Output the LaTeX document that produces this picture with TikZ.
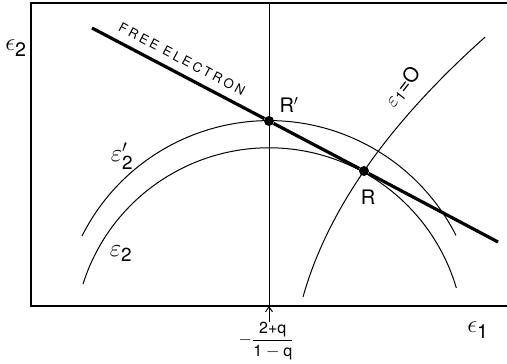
\documentclass[tikz,border=0pt]{standalone}
\usepackage{fontspec}
\usepackage{amsmath}
\setmainfont{TeX Gyre Heros}
\newfontfamily\spaced[LetterSpace=22]{TeX Gyre Heros}
\usetikzlibrary{arrows.meta}
\begin{document}
\begin{tikzpicture}[x=1pt,y=-1pt,
  thinline/.style={line width=1pt},
  frameline/.style={line width=1.6pt},
  freeline/.style={line width=3.2pt},
  dotnode/.style={circle,fill=black,inner sep=0pt,minimum size=10pt},
  lbl/.style={inner sep=1pt,font=\fontsize{20}{22}\selectfont},
  eps/.style={inner sep=1pt,font=\fontsize{27}{29}\selectfont}]
\useasboundingbox (0,0) rectangle (507,364);
% frame
\coordinate (tl) at (31,3);
\coordinate (tr) at (507,3);
\coordinate (bl) at (31,306);
\coordinate (br) at (507,306);
\draw[frameline] (tr) -- (tl) -- (bl) -- (br);
% vertical line with arrow
\coordinate (vtop) at (269,3);
\coordinate (vbot) at (269,306);
\coordinate (vtail) at (269,322);
\draw[thinline] (vtop) -- (vbot);
\draw[thinline,-{Straight Barb[length=5pt,width=7pt]}] (vtail) -- (vbot);
% arcs
\draw[thinline] (82,236) arc[start angle=-153.3,end angle=-26.9,radius=209.5];
\draw[thinline] (83,284) arc[start angle=-162.4,end angle=-16.4,radius=195.2];
% epsilon1 = 0 curve
\draw[thinline] plot[domain=297:37,samples=60,variable=\t] ({303-0.484*(\t-297)+0.00161*(\t-297)*(\t-171)},\t);
% dots
\node[dotnode] (Rp) at (269,121) {};
\node[dotnode] (R) at (364,171) {};
% free electron line
\coordinate (fs) at (92,28);
\coordinate (fe) at (498,242);
\draw[freeline] (fs) -- (Rp) -- (R) -- (fe);
% labels
\node[lbl] (Rplab) at (289,105) {R$'$};
\node[lbl] (Rlab) at (368,197) {R};
\node[font=\fontsize{13}{15}\selectfont\spaced,rotate=-27.8] (fel) at (182,59) {FREE ELECTRON};
\node[font=\fontsize{20}{22}\selectfont,rotate=52,inner sep=1pt] (e10) at (403,87) {$\varepsilon_{\text{1}}$=O};
\node[eps] (e2p) at (122,156) {$\varepsilon'_{\text{2}}$};
\node[eps] (e2) at (121,254) {$\varepsilon_{\text{2}}$};
\node[eps,font=\fontsize{28}{30}\selectfont] (ax2) at (16,48) {$\epsilon_{\text{2}}$};
\node[eps,font=\fontsize{28}{30}\selectfont] (ax1) at (478,330) {$\epsilon_{\text{1}}$};
\node[font=\fontsize{16}{18}\selectfont] (frac) at (266,341) {$-\dfrac{\text{2+q}}{\text{1}-\text{q}}$};
\end{tikzpicture}
\end{document}
